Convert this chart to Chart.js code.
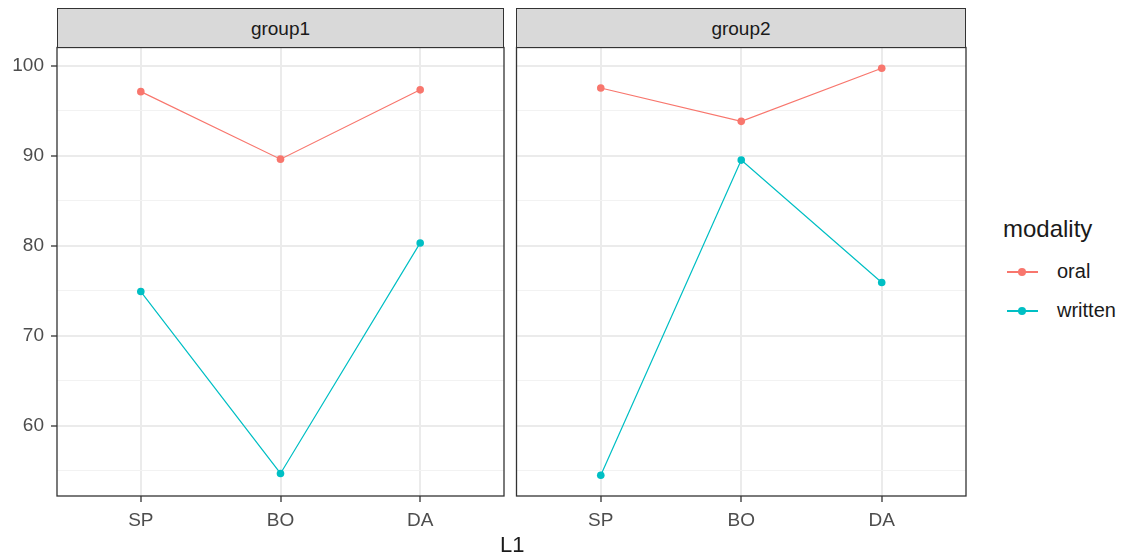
<!DOCTYPE html>
<html>
<head>
<meta charset="utf-8">
<script src="https://cdn.jsdelivr.net/npm/chart.js@4/dist/chart.umd.min.js"></script>
<style>
  body { margin: 0; background: #fff; font-family: "Liberation Sans", Arial, sans-serif; }
  #wrap { position: relative; width: 1122px; height: 560px; overflow: hidden; }
  canvas { position: absolute; top: 0; }
  .strip { position: absolute; top: 8px; height: 40px; background: #D9D9D9; border: 1.3px solid #333;
           box-sizing: border-box; text-align: center; padding-top: 3px; line-height: 34px; font-size: 19px; color: #1A1A1A; }
  .txt { position: absolute; color: #1A1A1A; white-space: nowrap; line-height: 1.15; }
  .key { position: absolute; width: 31px; height: 2px; }
  .dot { position: absolute; width: 8px; height: 8px; border-radius: 50%; }
</style>
</head>
<body>
<div id="wrap">
  <canvas id="c1" width="510" height="560" style="left:0"></canvas>
  <canvas id="c2" width="460" height="560" style="left:510px"></canvas>
  <div class="strip" style="left:57px;width:447px">group1</div>
  <div class="strip" style="left:516px;width:450px">group2</div>
  <div class="txt" style="left:500px;top:532px;font-size:22px">L1</div>
  <div class="txt" style="left:1003px;top:215px;font-size:24px">modality</div>
  <div class="key" style="left:1007px;top:271px;background:#F8766D"></div>
  <div class="dot" style="left:1018px;top:268px;background:#F8766D"></div>
  <div class="txt" style="left:1057px;top:260px;font-size:20px">oral</div>
  <div class="key" style="left:1007px;top:310px;background:#00BFC4"></div>
  <div class="dot" style="left:1018px;top:307px;background:#00BFC4"></div>
  <div class="txt" style="left:1057px;top:299px;font-size:20px">written</div>
</div>
<script>
// values
var categories = ["SP", "BO", "DA"];
var group1Oral = [97.1, 89.6, 97.3];
var group1Written = [74.9, 54.7, 80.3];
var group2Oral = [97.5, 93.8, 99.7];
var group2Written = [54.5, 89.5, 75.9];
var yTicks = [55, 60, 65, 70, 75, 80, 85, 90, 95, 100];
var yLabels = [60, 70, 80, 90, 100];

var oralColor = "#F8766D";
var writtenColor = "#00BFC4";

function toPoints(vals) {
  return categories.map(function (c, i) {
    return { x: i, y: vals[i] };
  });
}

function series(label, vals, color) {
  return {
    label: label,
    data: toPoints(vals),
    borderColor: color,
    backgroundColor: color,
    borderWidth: 1.2,
    pointRadius: 3.8,
    pointHoverRadius: 3.8,
    pointBorderWidth: 0
  };
}

var panelBorder = {
  id: "panelBorder",
  afterDraw: function (chart) {
    var a = chart.chartArea;
    var ctx = chart.ctx;
    ctx.save();
    ctx.strokeStyle = "#333333";
    ctx.lineWidth = 1.3;
    ctx.strokeRect(a.left, a.top, a.right - a.left, a.bottom - a.top);
    ctx.restore();
  }
};

function makePanel(id, oral, written, showY) {
  return new Chart(document.getElementById(id), {
    type: "line",
    data: {
      datasets: [series("oral", oral, oralColor), series("written", written, writtenColor)]
    },
    options: {
      responsive: false,
      animation: false,
      events: [],
      layout: {
        padding: { top: 47.5, right: showY ? 6 : 4, bottom: 0, left: 0 }
      },
      plugins: { legend: { display: false }, tooltip: { enabled: false } },
      scales: {
        x: {
          type: "linear",
          min: -0.6,
          max: 2.6,
          afterBuildTicks: function (s) {
            s.ticks = categories.map(function (c, i) { return { value: i }; });
          },
          afterFit: function (s) { s.height = 64; },
          border: { display: false },
          grid: { color: "#EBEBEB", lineWidth: 2, tickLength: 6, tickColor: "#333333", tickWidth: 1.3 },
          ticks: {
            padding: 7,
            color: "#4D4D4D",
            font: { family: "Liberation Sans", size: 19 },
            callback: function (v) { return categories[v]; }
          }
        },
        y: {
          min: 52.2,
          max: 102,
          afterBuildTicks: function (s) {
            s.ticks = yTicks.map(function (v) { return { value: v }; });
          },
          afterFit: function (s) { s.width = showY ? 57 : 6.5; },
          border: { display: false },
          grid: {
            color: function (c) { return yLabels.indexOf(c.tick.value) >= 0 ? "#EBEBEB" : "#F2F2F2"; },
            lineWidth: function (c) { return yLabels.indexOf(c.tick.value) >= 0 ? 2 : 1; },
            drawTicks: showY,
            tickLength: 6,
            tickWidth: 1.3,
            tickColor: function (c) { return yLabels.indexOf(c.tick.value) >= 0 ? "#333333" : "rgba(0,0,0,0)"; }
          },
          ticks: {
            display: showY,
            padding: 7,
            color: "#4D4D4D",
            font: { family: "Liberation Sans", size: 19 },
            callback: function (v) { return yLabels.indexOf(v) >= 0 ? String(v) : ""; }
          }
        }
      }
    },
    plugins: [panelBorder]
  });
}

makePanel("c1", group1Oral, group1Written, true);
makePanel("c2", group2Oral, group2Written, false);
</script>
</body>
</html>
